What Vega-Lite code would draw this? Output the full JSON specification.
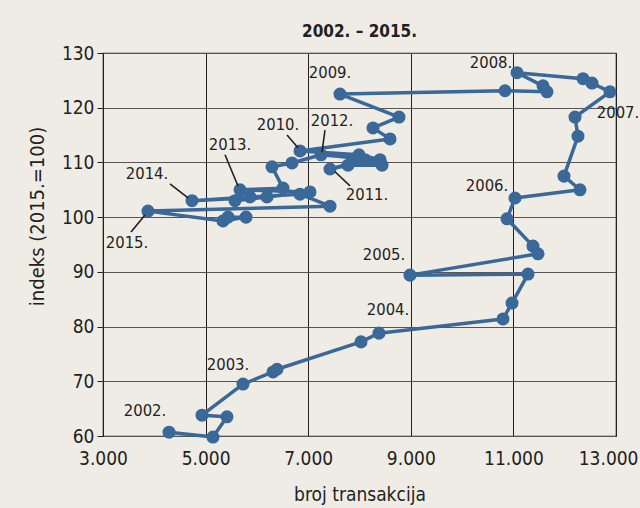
{
  "$schema": "https://vega.github.io/schema/vega-lite/v6.json",
  "width": 513,
  "height": 383,
  "autosize": {"type": "none"},
  "padding": {"left": 103, "top": 53, "right": 24, "bottom": 72},
  "background": "#efece6",
  "title": {"text": "2002. – 2015.", "fontSize": 17, "fontWeight": "bold", "color": "#231f20", "offset": 3, "anchor": "middle", "font": "DejaVu Sans Condensed, sans-serif"},
  "config": {
    "font": "DejaVu Sans Condensed, sans-serif",
    "view": {"stroke": "#231f20", "strokeWidth": 1.2}
  },
  "datasets": {
    "pts": [
      {"t": 1, "godina": 2002, "kvartal": 1, "transakcije": 4287, "indeks": 60.7},
      {"t": 2, "godina": 2002, "kvartal": 2, "transakcije": 5144, "indeks": 59.8},
      {"t": 3, "godina": 2002, "kvartal": 3, "transakcije": 5417, "indeks": 63.5},
      {"t": 4, "godina": 2002, "kvartal": 4, "transakcije": 4930, "indeks": 63.8},
      {"t": 5, "godina": 2003, "kvartal": 1, "transakcije": 5729, "indeks": 69.5},
      {"t": 6, "godina": 2003, "kvartal": 2, "transakcije": 6314, "indeks": 71.7},
      {"t": 7, "godina": 2003, "kvartal": 3, "transakcije": 6392, "indeks": 72.2},
      {"t": 8, "godina": 2003, "kvartal": 4, "transakcije": 8029, "indeks": 77.2},
      {"t": 9, "godina": 2004, "kvartal": 1, "transakcije": 8380, "indeks": 78.8},
      {"t": 10, "godina": 2004, "kvartal": 2, "transakcije": 10797, "indeks": 81.4},
      {"t": 11, "godina": 2004, "kvartal": 3, "transakcije": 10973, "indeks": 84.3},
      {"t": 12, "godina": 2004, "kvartal": 4, "transakcije": 11285, "indeks": 89.6},
      {"t": 13, "godina": 2005, "kvartal": 1, "transakcije": 8984, "indeks": 89.4},
      {"t": 14, "godina": 2005, "kvartal": 2, "transakcije": 11480, "indeks": 93.3},
      {"t": 15, "godina": 2005, "kvartal": 3, "transakcije": 11382, "indeks": 94.7},
      {"t": 16, "godina": 2005, "kvartal": 4, "transakcije": 10875, "indeks": 99.7},
      {"t": 17, "godina": 2006, "kvartal": 1, "transakcije": 11031, "indeks": 103.5},
      {"t": 18, "godina": 2006, "kvartal": 2, "transakcije": 12298, "indeks": 105.0},
      {"t": 19, "godina": 2006, "kvartal": 3, "transakcije": 11986, "indeks": 107.5},
      {"t": 20, "godina": 2006, "kvartal": 4, "transakcije": 12259, "indeks": 114.8},
      {"t": 21, "godina": 2007, "kvartal": 1, "transakcije": 12201, "indeks": 118.3},
      {"t": 22, "godina": 2007, "kvartal": 2, "transakcije": 12883, "indeks": 122.9},
      {"t": 23, "godina": 2007, "kvartal": 3, "transakcije": 12532, "indeks": 124.5},
      {"t": 24, "godina": 2007, "kvartal": 4, "transakcije": 12357, "indeks": 125.3},
      {"t": 25, "godina": 2008, "kvartal": 1, "transakcije": 11070, "indeks": 126.4},
      {"t": 26, "godina": 2008, "kvartal": 2, "transakcije": 11577, "indeks": 124.0},
      {"t": 27, "godina": 2008, "kvartal": 3, "transakcije": 11655, "indeks": 122.9},
      {"t": 28, "godina": 2008, "kvartal": 4, "transakcije": 10836, "indeks": 123.1},
      {"t": 29, "godina": 2009, "kvartal": 1, "transakcije": 7620, "indeks": 122.5},
      {"t": 30, "godina": 2009, "kvartal": 2, "transakcije": 8770, "indeks": 118.3},
      {"t": 31, "godina": 2009, "kvartal": 3, "transakcije": 8263, "indeks": 116.3},
      {"t": 32, "godina": 2009, "kvartal": 4, "transakcije": 8595, "indeks": 114.3},
      {"t": 33, "godina": 2010, "kvartal": 1, "transakcije": 6840, "indeks": 112.1},
      {"t": 34, "godina": 2010, "kvartal": 2, "transakcije": 7990, "indeks": 111.4},
      {"t": 35, "godina": 2010, "kvartal": 3, "transakcije": 8400, "indeks": 110.5},
      {"t": 36, "godina": 2010, "kvartal": 4, "transakcije": 8107, "indeks": 110.5},
      {"t": 37, "godina": 2011, "kvartal": 1, "transakcije": 7425, "indeks": 108.8},
      {"t": 38, "godina": 2011, "kvartal": 2, "transakcije": 7776, "indeks": 109.5},
      {"t": 39, "godina": 2011, "kvartal": 3, "transakcije": 8439, "indeks": 109.5},
      {"t": 40, "godina": 2011, "kvartal": 4, "transakcije": 7932, "indeks": 110.8},
      {"t": 41, "godina": 2012, "kvartal": 1, "transakcije": 7250, "indeks": 111.4},
      {"t": 42, "godina": 2012, "kvartal": 2, "transakcije": 6684, "indeks": 109.9},
      {"t": 43, "godina": 2012, "kvartal": 3, "transakcije": 6294, "indeks": 109.2},
      {"t": 44, "godina": 2012, "kvartal": 4, "transakcije": 6509, "indeks": 105.3},
      {"t": 45, "godina": 2013, "kvartal": 1, "transakcije": 5671, "indeks": 105.0},
      {"t": 46, "godina": 2013, "kvartal": 2, "transakcije": 7035, "indeks": 104.6},
      {"t": 47, "godina": 2013, "kvartal": 3, "transakcije": 5573, "indeks": 103.0},
      {"t": 48, "godina": 2013, "kvartal": 4, "transakcije": 6197, "indeks": 103.7},
      {"t": 49, "godina": 2014, "kvartal": 1, "transakcije": 4735, "indeks": 103.0},
      {"t": 50, "godina": 2014, "kvartal": 2, "transakcije": 5865, "indeks": 103.7},
      {"t": 51, "godina": 2014, "kvartal": 3, "transakcije": 6840, "indeks": 104.2},
      {"t": 52, "godina": 2014, "kvartal": 4, "transakcije": 7425, "indeks": 102.0},
      {"t": 53, "godina": 2015, "kvartal": 1, "transakcije": 3877, "indeks": 101.1},
      {"t": 54, "godina": 2015, "kvartal": 2, "transakcije": 5339, "indeks": 99.3},
      {"t": 55, "godina": 2015, "kvartal": 3, "transakcije": 5788, "indeks": 100.0},
      {"t": 56, "godina": 2015, "kvartal": 4, "transakcije": 5437, "indeks": 100.0}
    ],
    "labels": [
      {"oznaka": "2002.", "lx": 3819, "ly": 64.6},
      {"oznaka": "2003.", "lx": 5437, "ly": 73.0},
      {"oznaka": "2004.", "lx": 8556, "ly": 83.0},
      {"oznaka": "2005.", "lx": 8478, "ly": 93.1},
      {"oznaka": "2006.", "lx": 10485, "ly": 105.7},
      {"oznaka": "2007.", "lx": 13039, "ly": 119.0},
      {"oznaka": "2008.", "lx": 10563, "ly": 128.2},
      {"oznaka": "2009.", "lx": 7425, "ly": 126.4},
      {"oznaka": "2010.", "lx": 6411, "ly": 116.9, "x1": 6587, "y1": 115.0, "x2": 6801, "y2": 112.7},
      {"oznaka": "2011.", "lx": 8146, "ly": 104.1, "x1": 7522, "y1": 108.3, "x2": 7815, "y2": 105.7},
      {"oznaka": "2012.", "lx": 7464, "ly": 117.6, "x1": 7327, "y1": 115.9, "x2": 7269, "y2": 111.9},
      {"oznaka": "2013.", "lx": 5476, "ly": 113.2, "x1": 5378, "y1": 111.4, "x2": 5632, "y2": 105.7},
      {"oznaka": "2014.", "lx": 3858, "ly": 107.9, "x1": 4306, "y1": 106.1, "x2": 4657, "y2": 103.5},
      {"oznaka": "2015.", "lx": 3468, "ly": 95.3, "x1": 3819, "y1": 100.4, "x2": 3546, "y2": 97.3}
    ]
  },
  "layer": [
    {
      "data": {"name": "pts"},
      "mark": {"type": "line", "color": "#3a6899", "strokeWidth": 3.5, "strokeJoin": "round"},
      "encoding": {
        "x": {
          "field": "transakcije", "type": "quantitative",
          "scale": {"domain": [3000, 13000], "nice": false, "zero": false},
          "axis": {
            "values": [3000, 5000, 7000, 9000, 11000, 13000],
            "labelExpr": "replace(format(datum.value, ','), ',', '.')",
            "labelFlush": false,
            "labelAlign": {"condition": {"test": "datum.value == 13000", "value": "right"}, "value": "center"},
            "labelOffset": {"condition": {"test": "datum.value == 13000", "value": 22}, "value": 0},
            "grid": true, "gridColor": "#231f20", "gridWidth": 1,
            "domain": false, "ticks": false,
            "labelFontSize": 19, "labelColor": "#231f20", "labelPadding": 13,
            "title": "broj transakcija", "titleFontSize": 19, "titleFontWeight": "normal", "titleColor": "#231f20", "titlePadding": 17
          }
        },
        "y": {
          "field": "indeks", "type": "quantitative",
          "scale": {"domain": [60, 130], "nice": false, "zero": false},
          "axis": {
            "values": [60, 70, 80, 90, 100, 110, 120, 130],
            "grid": true, "gridColor": "#555555", "gridWidth": 1.2,
            "domain": false, "ticks": true, "tickSize": 6, "tickColor": "#231f20",
            "labelFontSize": 19, "labelColor": "#231f20", "labelPadding": 3,
            "title": "indeks (2015.=100)", "titleFontSize": 20, "titleFontWeight": "normal", "titleColor": "#231f20", "titlePadding": 14,
            "titleY": 163
          }
        },
        "order": {"field": "t", "type": "quantitative"}
      }
    },
    {
      "data": {"name": "pts"},
      "mark": {"type": "circle", "color": "#3a6899", "size": 170, "opacity": 1},
      "encoding": {
        "x": {"field": "transakcije", "type": "quantitative"},
        "y": {"field": "indeks", "type": "quantitative"}
      }
    },
    {
      "data": {"name": "labels"},
      "transform": [{"filter": "isValid(datum.x1)"}],
      "mark": {"type": "rule", "color": "#231f20", "strokeWidth": 1.6},
      "encoding": {
        "x": {"field": "x1", "type": "quantitative"},
        "y": {"field": "y1", "type": "quantitative"},
        "x2": {"field": "x2"},
        "y2": {"field": "y2"}
      }
    },
    {
      "data": {"name": "labels"},
      "mark": {"type": "text", "fontSize": 16.5, "color": "#231f20", "align": "center", "baseline": "middle"},
      "encoding": {
        "x": {"field": "lx", "type": "quantitative"},
        "y": {"field": "ly", "type": "quantitative"},
        "text": {"field": "oznaka"}
      }
    }
  ]
}
